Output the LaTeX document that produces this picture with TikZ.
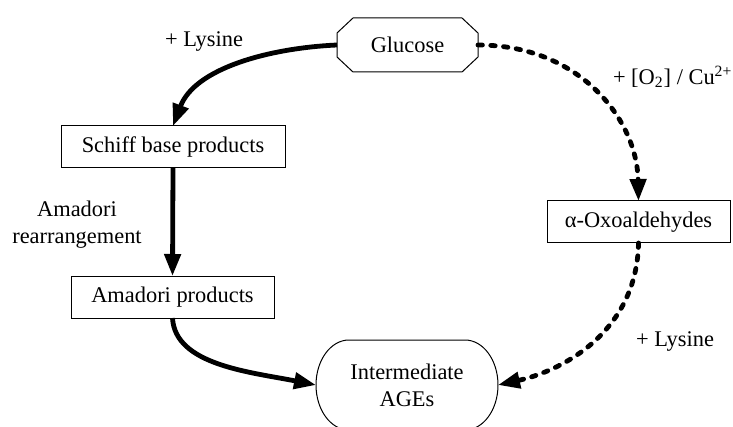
\documentclass[tikz,border=0pt]{standalone}
\usepackage{fontspec}
\setmainfont{Liberation Serif}
\usetikzlibrary{arrows.meta}
\begin{document}
\begin{tikzpicture}[x=0.5pt,y=-0.5pt,
  every node/.style={font=\fontsize{11.2pt}{13.5pt}\selectfont, outer sep=0pt, inner sep=0pt},
  box/.style={draw, line width=0.5pt, minimum height=21pt},
  shapeline/.style={line width=0.5pt},
  flow/.style={line width=2.4pt, -{Triangle[length=11pt,width=8pt]}},
  dflow/.style={flow, dash pattern=on 2.2pt off 4.2pt, line cap=round},
  lbl/.style={align=center}]
\clip (0,0) rectangle (733,427);
% nodes
\node[minimum width=70.5pt, minimum height=27pt] (glu) at (407.5,45) {Glucose};
\draw[shapeline] ([xshift=8pt]glu.north west) -- ([xshift=-8pt]glu.north east)
  -- ([yshift=-7.5pt]glu.north east) -- ([yshift=7.5pt]glu.south east)
  -- ([xshift=-8pt]glu.south east) -- ([xshift=8pt]glu.south west)
  -- ([yshift=7.5pt]glu.south west) -- ([yshift=-7.5pt]glu.north west) -- cycle;
\node[box, minimum width=112pt] (schiff) at (173,147) {Schiff base products};
\node[box, minimum width=101.5pt] (amadori) at (172.5,297) {Amadori products};
\node[box, minimum width=91.5pt] (oxo) at (638.5,222) {α-Oxoaldehydes};
\node[minimum width=91pt, minimum height=45pt, align=center] (ages) at (407,385) {Intermediate\\AGEs};
\draw[shapeline] ([xshift=16.5pt]ages.north west) -- ([xshift=-16.5pt]ages.north east)
  arc[start angle=90, end angle=-90, x radius=16.5pt, y radius=22.5pt]
  -- ([xshift=16.5pt]ages.south west)
  arc[start angle=270, end angle=90, x radius=16.5pt, y radius=22.5pt] -- cycle;
% labels
\node[lbl] (l1) at (204,42) {+ Lysine};
\node[lbl, anchor=west] (l2) at (613,77) {+ [O\textsubscript{2}] / Cu\textsuperscript{2+}};
\node[lbl] (l3) at (77,225) {Amadori\\rearrangement};
\node[lbl] (l4) at (675,342) {+ Lysine};
% connectors
\draw[flow] (glu.west) .. controls (270,48) and (195,68) .. (schiff.north);
\draw[flow] (schiff.south) -- (amadori.north);
\draw[flow] (amadori.south) .. controls (175,365) and (250,372) .. (ages.west);
\draw[dflow] (glu.east) .. controls (580,45) and (637,120) .. (oxo.north);
\draw[dflow] (oxo.south) .. controls (637,330) and (565,370) .. (ages.east);
\end{tikzpicture}
\end{document}
